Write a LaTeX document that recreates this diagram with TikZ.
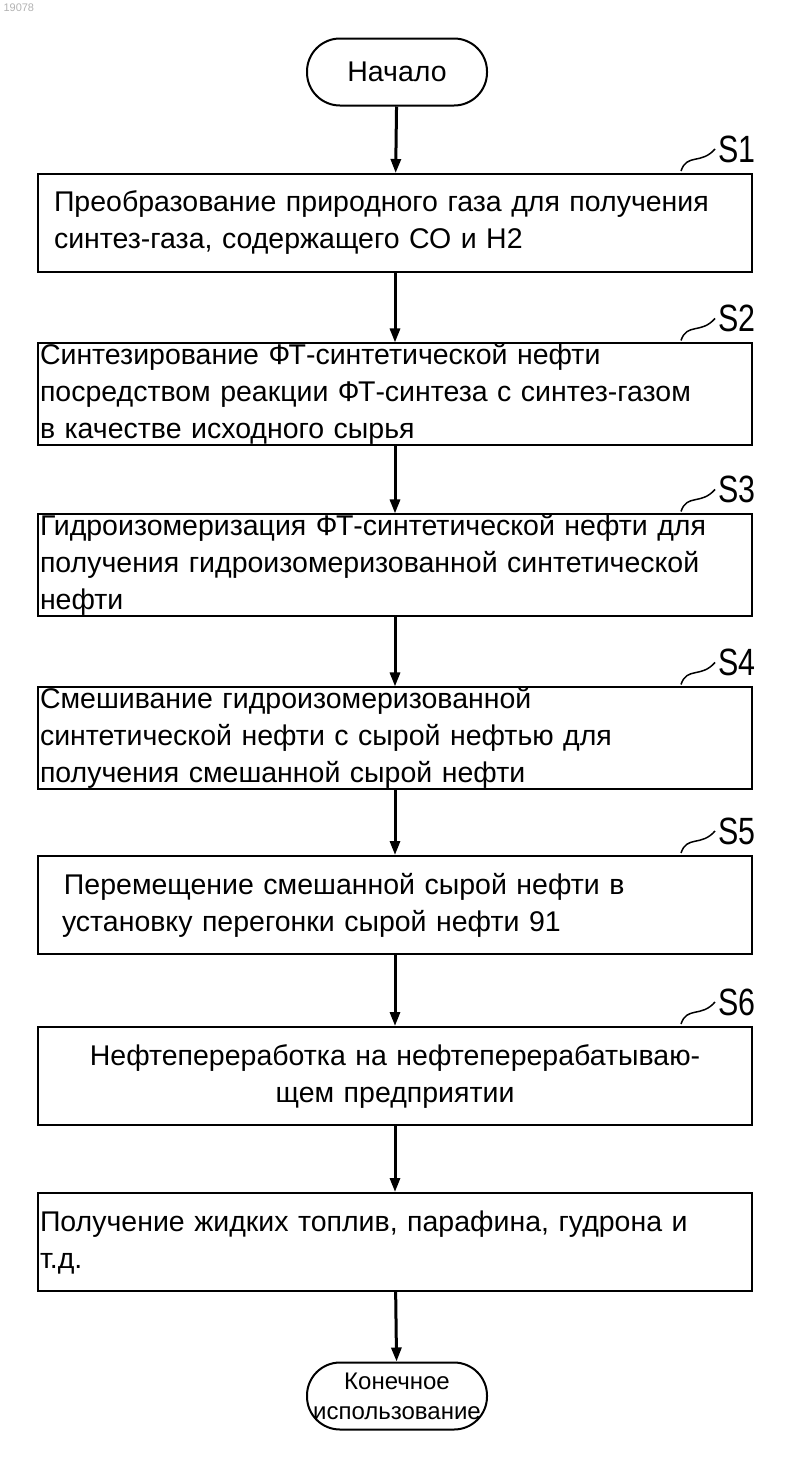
\documentclass[tikz,border=0pt]{standalone}
\usepackage{fontspec}
\setmainfont{Liberation Sans}
\usetikzlibrary{positioning, arrows.meta, calc}

\begin{document}
\begin{tikzpicture}
[x=1pt, y=-1pt,
 stepbox/.style={rectangle, draw, line width=2pt, minimum width=714pt, minimum height=98pt,
   text width=710pt, align=left, inner xsep=2pt, inner ysep=0pt, font=\fontsize{28.5}{37}\selectfont},
 term/.style={rectangle, rounded corners=33pt, draw, line width=2pt, minimum width=180pt,
   minimum height=67pt, align=center, font=\fontsize{28.5}{30}\selectfont},
 steplbl/.style={font=\fontsize{38}{38}\selectfont, anchor=west, inner sep=0pt, xscale=0.8},
 flow/.style={line width=3pt, arrows={-{Triangle[length=14pt,width=10pt]}}}]

\useasboundingbox (0,0) rectangle (800,1457);
\node[anchor=north west, text=gray!60, font=\fontsize{11}{11}\selectfont] (id) at (0,0) {19078};

% terminals and steps
\node[term] (start) at (397,72) {Начало};
\node[stepbox] (s1) at (395,223) {\hspace*{14pt}Преобразование природного газа для получения\\\hspace*{14pt}синтез-газа, содержащего СО и Н2};
\node[stepbox] (s2) at (395,394) {Синтезирование ФТ-синтетической нефти\\посредством реакции ФТ-синтеза с синтез-газом\\в качестве исходного сырья};
\node[stepbox] (s3) at (395,565) {Гидроизомеризация ФТ-синтетической нефти для\\получения гидроизомеризованной синтетической\\нефти};
\node[stepbox] (s4) at (395,738) {Смешивание гидроизомеризованной\\синтетической нефти с сырой нефтью для\\получения смешанной сырой нефти};
\node[stepbox] (s5) at (395,905) {\hspace*{24pt}Перемещение смешанной сырой нефти в\\\hspace*{22pt}установку перегонки сырой нефти 91};
\node[stepbox, align=center] (s6) at (395,1076) {Нефтепереработка на нефтеперерабатываю-\\щем предприятии};
\node[stepbox] (s7) at (395,1242) {Получение жидких топлив, парафина, гудрона и\\т.д.};
\node[term, font=\fontsize{24}{30}\selectfont] (end) at (397,1396) {Конечное\\использование};

% step labels with squiggles
\foreach \s/\t in {s1/S1, s2/S2, s3/S3, s4/S4, s5/S5, s6/S6} {
  \node[steplbl] (l\s) at ($(\s.north east)+(-35,-24)$) {\t};
  \draw[line width=1.5pt] ($(\s.north east)+(-72,-2)$) .. controls ($(\s.north east)+(-66,-20)$) and ($(\s.north east)+(-52,-8)$) .. ($(l\s.west)+(-3,0)$);
}

% connectors
\draw[flow] (start) -- (s1);
\draw[flow] (s1) -- (s2);
\draw[flow] (s2) -- (s3);
\draw[flow] (s3) -- (s4);
\draw[flow] (s4) -- (s5);
\draw[flow] (s5) -- (s6);
\draw[flow] (s6) -- (s7);
\draw[flow] (s7) -- (end);

\end{tikzpicture}
\end{document}
